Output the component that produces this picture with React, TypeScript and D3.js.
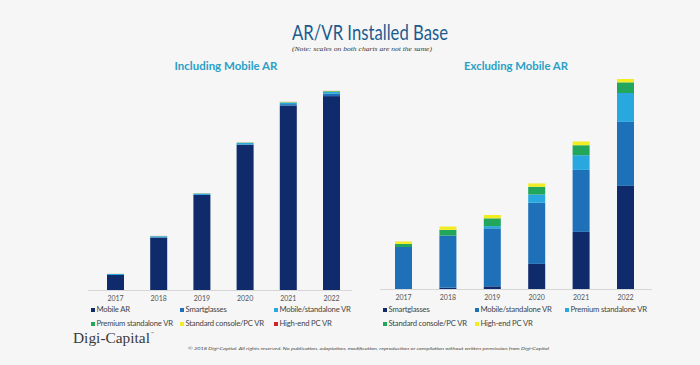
import React from 'react';
import * as d3 from 'd3';

// installed base, millions of units
const years = ['2017', '2018', '2019', '2020', '2021', '2022'];
const mobileAR = [270, 945, 1710, 2610, 3320, 3490];
const smartglasses = [0, 0.6, 1.2, 11.3, 25.7, 46.4];
const mobileVR = [18.9, 23.4, 26.1, 27.5, 27.9, 28.8];
const premiumVR = [0, 0, 1.0, 3.7, 6.6, 13];
const consoleVR = [1.4, 2.6, 3.5, 3.5, 4.5, 4.8];
const highEndVR = [1.1, 1.5, 1.5, 1.5, 1.7, 1.5];

const leftKeys = ['Mobile AR', 'Smartglasses', 'Mobile/standalone VR', 'Premium standalone VR', 'Standard console/PC VR', 'High-end PC VR'];
const rightKeys = ['Smartglasses', 'Mobile/standalone VR', 'Premium standalone VR', 'Standard console/PC VR', 'High-end PC VR'];
const leftColors = ['#0f2b6c', '#1e70b8', '#29a8df', '#22a65c', '#f1ec24', '#d2232b'];
const rightColors = ['#0f2b6c', '#1e70b8', '#29a8df', '#22a65c', '#f1ec24'];

type Row = { [k: string]: number | string };
const rows: Row[] = years.map((year, i) => ({
  year,
  'Mobile AR': mobileAR[i],
  'Smartglasses': smartglasses[i],
  'Mobile/standalone VR': mobileVR[i],
  'Premium standalone VR': premiumVR[i],
  'Standard console/PC VR': consoleVR[i],
  'High-end PC VR': highEndVR[i],
}));

const BAR_W = 17;

// one stacked chart panel
const Panel = ({ keys, colors, x, y, axis, legendX, legendY }: any) => {
  const series = d3.stack<Row>().keys(keys).value((d, k) => d[k] as number)(rows);
  const base = y.range()[0];
  return (
    <g>
      <line x1={axis[0]} x2={axis[1]} y1={base + 0.5} y2={base + 0.5} stroke="#d6d6d6" strokeWidth={1} />
      {series.map((s, si) => (
        <g key={s.key} fill={colors[si]}>
          {s.map((d, i) => (
            <rect
              key={i}
              x={x(years[i]) - BAR_W / 2}
              y={y(d[1])}
              width={BAR_W}
              height={Math.max(0, y(d[0]) - y(d[1]))}
            />
          ))}
        </g>
      ))}
      {years.map((yr) => (
        <text key={yr} x={x(yr)} y={base + 11} textAnchor="middle" fontSize={7} fill="#555">
          {yr}
        </text>
      ))}
      {keys.map((k: string, i: number) => {
        const lx = legendX[i % 3];
        const ly = legendY[Math.floor(i / 3)];
        return (
          <g key={k}>
            <rect x={lx} y={ly - 4} width={4} height={4} fill={colors[i]} />
            <text x={lx + 5.5} y={ly} fontSize={7.7} letterSpacing={-0.2} fill="#444">{k}</text>
          </g>
        );
      })}
    </g>
  );
};

export default function App() {
  const xLeft = d3.scalePoint<string>().domain(years).range([115.5, 331.5]);
  const xRight = d3.scalePoint<string>().domain(years).range([403.5, 625.5]);
  const yLeft = d3.scaleLinear().domain([0, 3600]).range([290, 90]);
  const yRight = d3.scaleLinear().domain([0, 90]).range([289, 89]);

  return (
    <svg
      width={700}
      height={365}
      style={{ position: 'absolute', left: 0, top: 0, background: '#f6f6f6' }}
      fontFamily="Lato, 'Open Sans', sans-serif"
    >
      <rect width={700} height={365} fill="#f6f6f6" />
      <text x={370} y={40} textAnchor="middle" fontSize={21} fill="#1d5b8f" textLength={156} lengthAdjust="spacingAndGlyphs">
        AR/VR Installed Base
      </text>
      <text x={362} y={51} textAnchor="middle" fontSize={5.5} fontStyle="italic" fill="#333" fontFamily="'Liberation Serif', serif" textLength={140} lengthAdjust="spacingAndGlyphs">
        (Note: scales on both charts are not the same)
      </text>
      <text x={226} y={70} textAnchor="middle" fontSize={12} fontWeight="bold" fill="#2b9fc6" textLength={103} lengthAdjust="spacingAndGlyphs">
        Including Mobile AR
      </text>
      <text x={516} y={70} textAnchor="middle" fontSize={12} fontWeight="bold" fill="#2b9fc6" textLength={104} lengthAdjust="spacingAndGlyphs">
        Excluding Mobile AR
      </text>

      <Panel keys={leftKeys} colors={leftColors} x={xLeft} y={yLeft} axis={[88, 352]} legendX={[91, 180, 274]} legendY={[312, 326]} />
      <Panel keys={rightKeys} colors={rightColors} x={xRight} y={yRight} axis={[380, 652]} legendX={[383, 475, 565]} legendY={[312, 326]} />

      <text x={73} y={343} fontSize={15} fill="#3a3a3a" fontFamily="'Liberation Serif', serif" textLength={77} lengthAdjust="spacingAndGlyphs">
        Digi-Capital
      </text>
      <text x={151} y={335} fontSize={4} fill="#666">™</text>
      <text x={188} y={350} fontSize={4.6} fontStyle="italic" fill="#444" textLength={361} lengthAdjust="spacingAndGlyphs">
        © 2018 Digi-Capital. All rights reserved. No publication, adaptation, modification, reproduction or compilation without written permission from Digi-Capital
      </text>
    </svg>
  );
}
